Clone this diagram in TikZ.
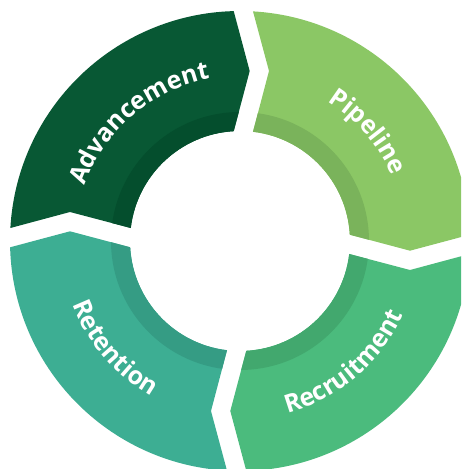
\documentclass[tikz,border=0pt]{standalone}
\usepackage{fontspec}
\setmainfont{Open Sans}
\usetikzlibrary{decorations.text}
\definecolor{advC}{HTML}{085834}
\definecolor{advB}{HTML}{044E2D}
\definecolor{pipC}{HTML}{8BC765}
\definecolor{pipB}{HTML}{7AB35B}
\definecolor{recC}{HTML}{4BBB7D}
\definecolor{recB}{HTML}{42A86E}
\definecolor{retC}{HTML}{3DAE93}
\definecolor{retB}{HTML}{359C84}
\newcommand\lblfont{\bfseries\fontsize{25}{25}\selectfont}
\tikzset{
  ringseg/.style={insert path={(86.760:230pt) arc[start angle=86.760, end angle=1.570, radius=230pt]
     -- (170pt,-9.7pt) -- (3.283:110pt) arc[start angle=3.283, end angle=83.213, radius=110pt]
     -- (29pt,170pt) -- cycle}},
  lbl/.style={decorate, decoration={text along path, text align=center, text color=white, text={|\lblfont|#1}}}
}
\begin{document}
\begin{tikzpicture}
\useasboundingbox (-240pt,-228pt) rectangle (221pt,241pt);
\clip (-240pt,-228pt) rectangle (221pt,241pt);
% segments
\foreach \ang/\mc/\bc in {0/pipC/pipB, -90/recC/recB, -180/retC/retB, 90/advC/advB}{
  \begin{scope}[rotate=\ang]
    \fill[\mc, ringseg];
    \begin{scope}
      \clip[ringseg];
      \fill[\bc] (0,0) circle[radius=129pt];
    \end{scope}
  \end{scope}
}
% labels
\path[lbl=Advancement] (190.5:165pt) arc[start angle=190.5, end angle=70.5, radius=165pt];
\path[lbl=Pipeline] (100.5:165pt) arc[start angle=100.5, end angle=-19.5, radius=165pt];
\path[lbl=Recruitment] (-109.5:179pt) arc[start angle=-109.5, end angle=10.5, radius=179pt];
\path[lbl=Retention] (160.5:179pt) arc[start angle=160.5, end angle=280.5, radius=179pt];
\end{tikzpicture}
\end{document}
